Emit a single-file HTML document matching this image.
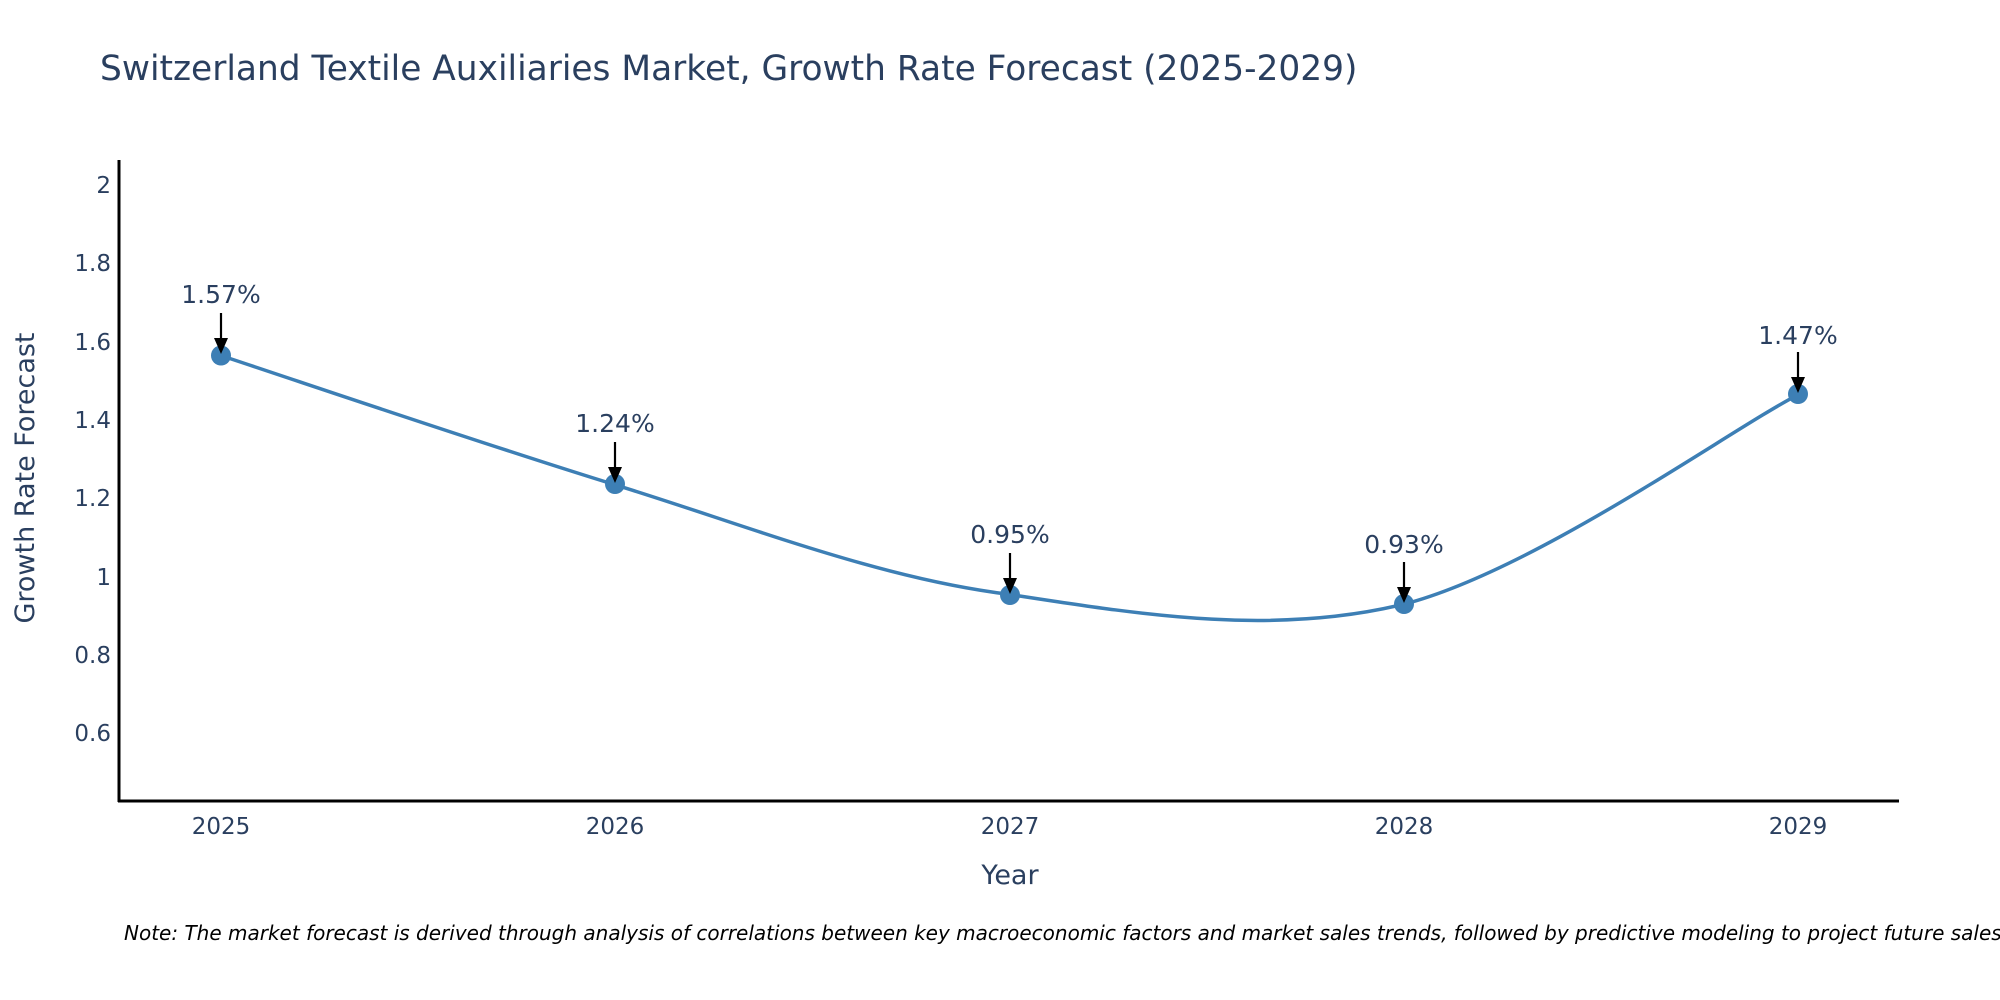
<!DOCTYPE html>
<html><head><meta charset="utf-8"><style>
html,body{margin:0;padding:0;background:#fff;overflow:hidden;}
svg{display:block;font-family:"DejaVu Sans","Liberation Sans",sans-serif;}
</style></head><body>
<svg width="2000" height="1000" viewBox="0 0 2000 1000" xmlns="http://www.w3.org/2000/svg">
<text x="100" y="80" font-size="34.4" fill="#2a3f5f">Switzerland Textile Auxiliaries Market, Growth Rate Forecast (2025-2029)</text>
<g font-size="23" fill="#2a3f5f" text-anchor="end">
<text x="111" y="193">2</text>
<text x="111" y="271">1.8</text>
<text x="111" y="350">1.6</text>
<text x="111" y="428">1.4</text>
<text x="111" y="506">1.2</text>
<text x="111" y="585">1</text>
<text x="111" y="663">0.8</text>
<text x="111" y="741">0.6</text>
</g>
<g font-size="23" fill="#2a3f5f" text-anchor="middle">
<text x="221" y="834">2025</text>
<text x="615" y="834">2026</text>
<text x="1010" y="834">2027</text>
<text x="1404" y="834">2028</text>
<text x="1798" y="834">2029</text>
</g>
<text x="1010" y="884" font-size="27" fill="#2a3f5f" text-anchor="middle">Year</text>
<text transform="translate(34,478) rotate(-90)" font-size="27" fill="#2a3f5f" text-anchor="middle">Growth Rate Forecast</text>
<line x1="119" y1="160" x2="119" y2="802" stroke="#000" stroke-width="3"/>
<line x1="118" y1="801" x2="1899" y2="801" stroke="#000" stroke-width="3"/>
<path d="M220.7,355.5 C286.4,377 483.6,444.3 615.1,484.8 C746.6,525.3 878,578.2 1009.5,594.4 C1141,614.6 1272.4,636.2 1403.9,604.2 C1535.4,570.2 1732.6,427.95 1798.3,394.7" fill="none" stroke="#3d7fb5" stroke-width="3.5"/>
<g fill="#3d7fb5">
<circle cx="221" cy="355.5" r="10"/>
<circle cx="615" cy="484" r="10"/>
<circle cx="1010" cy="595" r="10"/>
<circle cx="1404" cy="604" r="10"/>
<circle cx="1798" cy="394" r="10"/>
</g>
<g stroke="#000" stroke-width="2.2">
<line x1="221" y1="313" x2="221" y2="340"/>
<line x1="615" y1="442" x2="615" y2="469"/>
<line x1="1010" y1="553" x2="1010" y2="580"/>
<line x1="1404" y1="562" x2="1404" y2="589"/>
<line x1="1798" y1="352" x2="1798" y2="379"/>
</g>
<g fill="#000">
<path d="M214,338 L228,338 L221,354 Z"/>
<path d="M608,467 L622,467 L615,483 Z"/>
<path d="M1003,578 L1017,578 L1010,594 Z"/>
<path d="M1397,587 L1411,587 L1404,603 Z"/>
<path d="M1791,377 L1805,377 L1798,393 Z"/>
</g>
<g font-size="25" fill="#2a3f5f" text-anchor="middle">
<text x="221" y="303">1.57%</text>
<text x="615" y="432">1.24%</text>
<text x="1010" y="543">0.95%</text>
<text x="1404" y="553">0.93%</text>
<text x="1798" y="344">1.47%</text>
</g>
<text x="124" y="940" font-size="20" font-style="italic" fill="#000">Note: The market forecast is derived through analysis of correlations between key macroeconomic factors and market sales trends, followed by predictive modeling to project future sales.</text>
</svg>
</body></html>
